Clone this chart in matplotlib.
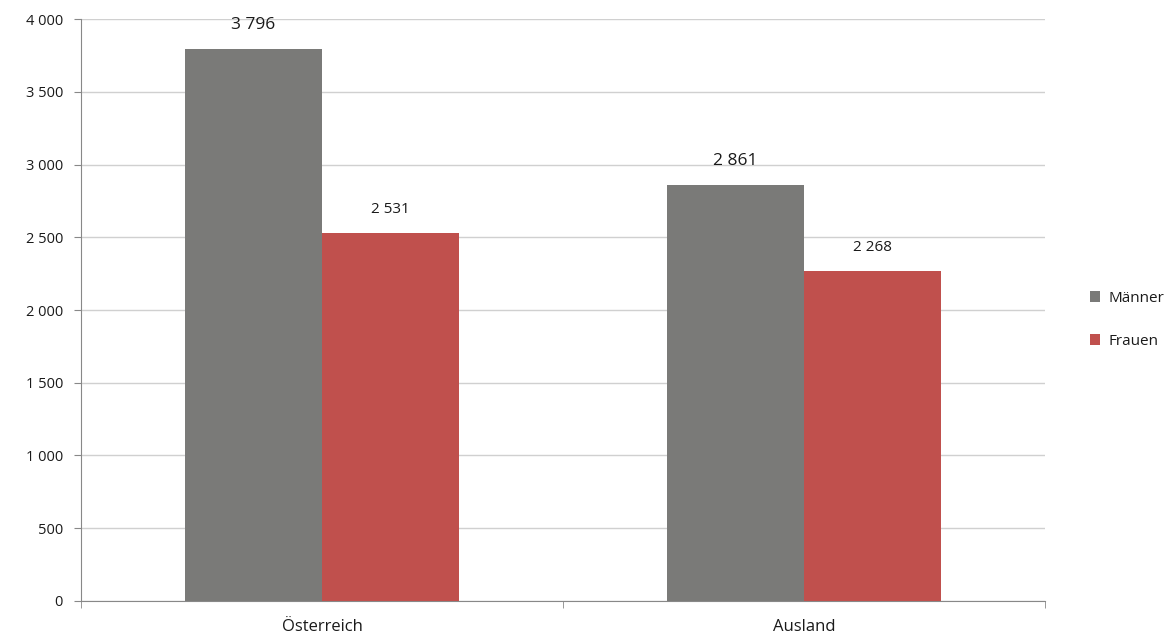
import matplotlib.pyplot as plt
import numpy as np
from matplotlib.ticker import FuncFormatter

# Data
categories = ['Österreich', 'Ausland']
maenner = [3796, 2861]
frauen = [2531, 2268]
series_names = ['Männer', 'Frauen']

plt.rcParams['font.family'] = ['Open Sans', 'DejaVu Sans']

fig = plt.figure(figsize=(11.73, 6.42), dpi=100)
ax = fig.add_axes([0.069, 0.064, 0.822, 0.906])

x = np.arange(len(categories))
w = 0.285
b1 = ax.bar(x - w / 2, maenner, w, color='#7a7a78', label=series_names[0], zorder=3)
b2 = ax.bar(x + w / 2, frauen, w, color='#c0504d', label=series_names[1], zorder=3)

def fmt(v, pos=None):
    return f'{int(v):,}'.replace(',', ' ')

for bars, size in ((b1, 12.5), (b2, 11)):
    for rect in bars:
        h = rect.get_height()
        ax.text(rect.get_x() + rect.get_width() / 2, h + 110, fmt(h),
                ha='center', va='bottom', fontsize=size, color='#1a1a1a')

ax.set_ylim(0, 4000)
ax.set_xlim(-0.5, 1.5)
ax.set_yticks(np.arange(0, 4001, 500))
ax.yaxis.set_major_formatter(FuncFormatter(fmt))
ax.grid(axis='y', color='#d0d0d0', linewidth=1, zorder=0)

ax.set_xticks(x)
ax.set_xticklabels(categories, fontsize=12, color='#1a1a1a')
ax.set_xticks([-0.5, 0.5, 1.5], minor=True)
ax.tick_params(axis='x', which='major', length=0, pad=13)
ax.tick_params(axis='x', which='minor', length=5, color='#888888')
ax.tick_params(axis='y', length=5, color='#888888', labelsize=10.5,
               labelcolor='#1a1a1a', pad=8)

for s in ('top', 'right'):
    ax.spines[s].set_visible(False)
for s in ('left', 'bottom'):
    ax.spines[s].set_color('#888888')

ax.legend(loc='center left', bbox_to_anchor=(1.032, 0.483), frameon=False,
          fontsize=11, handlelength=0.7, handleheight=0.7, handletextpad=0.5,
          labelspacing=1.85, labelcolor='#1a1a1a')

fig.savefig('out.png', dpi=100)
